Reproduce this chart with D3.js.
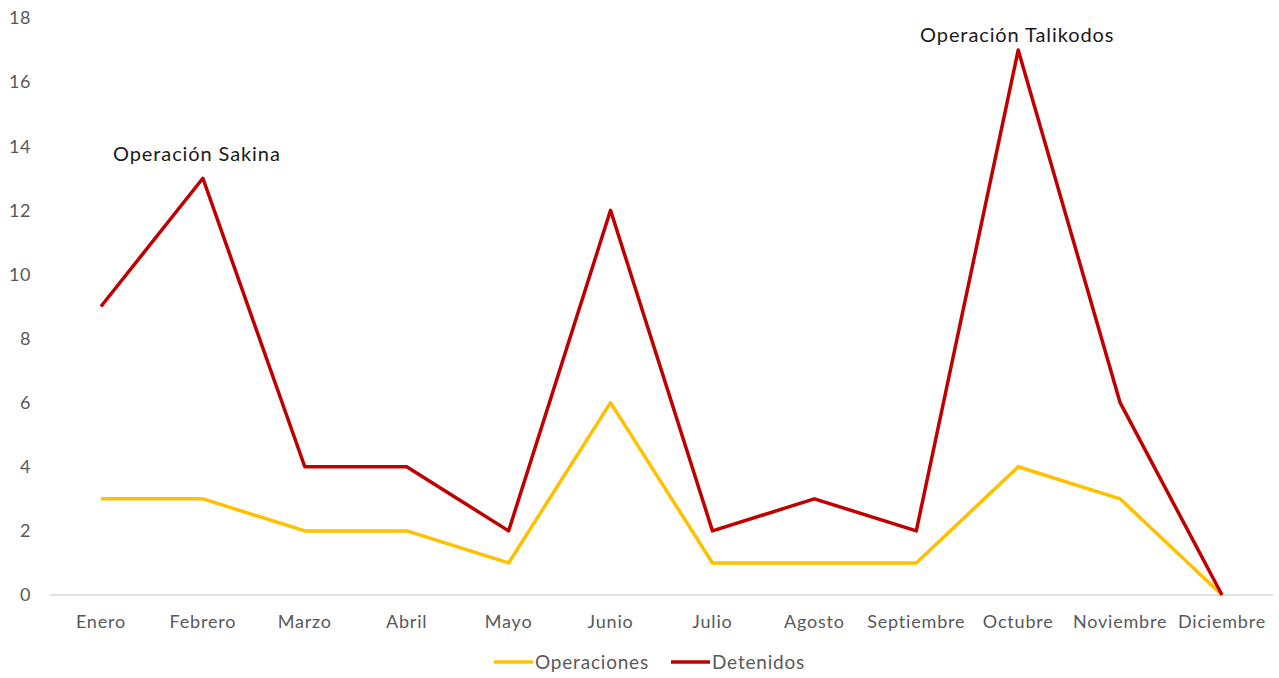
<!DOCTYPE html>
<html>
<head>
<meta charset="utf-8">
<script src="https://cdn.jsdelivr.net/npm/d3@7"></script>
<style>
  body { margin: 0; background: #fff; }
  svg text { font-family: "Lato", "Open Sans", sans-serif; }
</style>
</head>
<body>
<div id="chart"></div>
<script>
// chart data
var months = ["Enero", "Febrero", "Marzo", "Abril", "Mayo", "Junio", "Julio",
  "Agosto", "Septiembre", "Octubre", "Noviembre", "Diciembre"];
var operaciones = [3, 3, 2, 2, 1, 6, 1, 1, 1, 4, 3, 0];
var detenidos = [9, 13, 4, 4, 2, 12, 2, 3, 2, 17, 6, 0];
var yTicks = [0, 2, 4, 6, 8, 10, 12, 14, 16, 18];
var notes = [
  { month: "Febrero", value: 13, text: "Operación Sakina" },
  { month: "Octubre", value: 17, text: "Operación Talikodos" }
];
// label nudges for the notes (px), same order as notes
var noteShift = [[-6, -17], [-1, -8]];

// "top" is taken by window.top, so other names here
var chartW = 1279,
  chartH = 678,
  plotLeft = 50,
  plotRight = 1273,
  plotTop = 18,
  plotBottom = 595;

var svg = d3.select("#chart").append("svg")
  .attr("width", chartW)
  .attr("height", chartH);

var x = d3.scaleBand().domain(months).range([plotLeft, plotRight]).padding(0);
var y = d3.scaleLinear().domain([0, 18]).range([plotBottom, plotTop]);

// y labels
svg.selectAll(".ylab")
  .data(yTicks)
  .enter()
  .append("text")
  .attr("class", "ylab")
  .attr("x", 31)
  .attr("y", (d) => y(d))
  .attr("dy", "0.35em")
  .attr("text-anchor", "end")
  .style("font-size", "18px")
  .style("letter-spacing", "0.6px")
  .style("fill", "#595959")
  .text((d) => d);

// baseline
svg.append("line")
  .attr("x1", plotLeft)
  .attr("x2", plotRight)
  .attr("y1", y(0))
  .attr("y2", y(0))
  .style("stroke", "#d9d9d9")
  .style("stroke-width", 1.5);

// month labels
svg.selectAll(".xlab")
  .data(months)
  .enter()
  .append("text")
  .attr("class", "xlab")
  .attr("x", (d) => x(d) + x.bandwidth() / 2)
  .attr("y", 628)
  .attr("text-anchor", "middle")
  .style("font-size", "18px")
  .style("letter-spacing", "0.8px")
  .style("fill", "#595959")
  .text((d) => d);

var line = d3.line()
  .x((d, i) => x(months[i]) + x.bandwidth() / 2)
  .y((d) => y(d));

svg.append("path")
  .datum(operaciones)
  .attr("d", line)
  .style("fill", "none")
  .style("stroke", "#FFC000")
  .style("stroke-width", 3.5)
  .style("stroke-linejoin", "round");

svg.append("path")
  .datum(detenidos)
  .attr("d", line)
  .style("fill", "none")
  .style("stroke", "#C00000")
  .style("stroke-width", 3.5)
  .style("stroke-linejoin", "round");

// annotations
svg.selectAll(".note")
  .data(notes)
  .enter()
  .append("text")
  .attr("class", "note")
  .attr("x", (d, i) => x(d.month) + x.bandwidth() / 2 + noteShift[i][0])
  .attr("y", (d, i) => y(d.value) + noteShift[i][1])
  .attr("text-anchor", "middle")
  .style("font-size", "20px")
  .style("letter-spacing", "0.9px")
  .style("fill", "#1a1a1a")
  .text((d) => d.text);

// legend
var legend = [
  { name: "Operaciones", color: "#FFC000", x: 494 },
  { name: "Detenidos", color: "#C00000", x: 671 }
];
var lg = svg.selectAll(".legend")
  .data(legend)
  .enter()
  .append("g")
  .attr("transform", (d) => "translate(" + d.x + ",662)");
lg.append("line")
  .attr("x1", 0)
  .attr("x2", 39)
  .style("stroke", (d) => d.color)
  .style("stroke-width", 3.5);
lg.append("text")
  .attr("x", 41)
  .attr("dy", "0.35em")
  .style("font-size", "19px")
  .style("letter-spacing", "0.8px")
  .style("fill", "#595959")
  .text((d) => d.name);
</script>
</body>
</html>
